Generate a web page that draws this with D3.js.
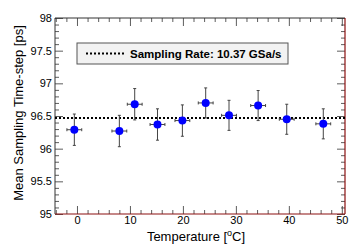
<!DOCTYPE html>
<meta charset="utf-8">
<script src="https://cdn.jsdelivr.net/npm/d3@7"></script>
<style>
    body { margin: 0; background: #fff; }
    .tick text { font-family: "Liberation Sans", Arial, sans-serif; font-size: 11px; fill: #000; }
    .label { font-family: "Liberation Sans", Arial, sans-serif; font-size: 13px; }
</style>
<body>
<script>
    var temps = [-0.5, 8.0, 10.9, 15.2, 19.9, 24.3, 28.7, 34.2, 39.6, 46.5];
    var stepPs = [96.29, 96.27, 96.68, 96.37, 96.43, 96.70, 96.51, 96.66, 96.45, 96.38];
    var stepErr = [0.24, 0.24, 0.24, 0.24, 0.24, 0.23, 0.23, 0.23, 0.23, 0.23];
    var tempErr = [1.4, 1.4, 1.4, 1.4, 1.4, 1.4, 1.4, 1.4, 1.4, 1.4];
    var meanStep = 96.47;
    var xTicks = [0, 10, 20, 30, 40, 50];
    var yTicks = [95, 95.5, 96, 96.5, 97, 97.5, 98];

    var data = temps.map(function (t, i) {
        return { t: t, v: stepPs[i], ev: stepErr[i], et: tempErr[i] };
    });

    var margin = { top: 18, right: 18, bottom: 32, left: 55 }
        , width = 363 - margin.left - margin.right
        , height = 246 - margin.top - margin.bottom;

    var svg = d3.select("body").append("svg")
        .attr("width", 363)
        .attr("height", 246)
        .append("g")
        .attr("transform", "translate(" + margin.left + "," + margin.top + ")");

    var xScale = d3.scaleLinear().domain([-4.15, 50.6]).range([0, width]);
    var yScale = d3.scaleLinear().domain([95, 98]).range([height, 0]);

    var minorX = d3.range(-4, 51, 2).filter(function (d) { return d % 10 !== 0; });
    var minorY = d3.range(950, 981, 1).map(function (d) { return d / 10; })
        .filter(function (d) { return Math.round(d * 10) % 5 !== 0; });

    // minor ticks, all four sides, pointing in
    function minor(axis, vals, size) {
        return axis.tickValues(vals).tickSize(size).tickFormat("");
    }
    svg.append("g").attr("transform", "translate(0," + height + ")")
        .call(minor(d3.axisTop(xScale), minorX, 4));
    svg.append("g").call(minor(d3.axisBottom(xScale), minorX, 4));
    svg.append("g").call(minor(d3.axisRight(yScale), minorY, 4));
    svg.append("g").attr("transform", "translate(" + width + ",0)")
        .call(minor(d3.axisLeft(yScale), minorY, 4));
    svg.append("g").call(d3.axisBottom(xScale).tickValues(xTicks).tickSize(8).tickFormat(""));
    svg.append("g").attr("transform", "translate(" + width + ",0)")
        .call(d3.axisLeft(yScale).tickValues(yTicks).tickSize(8).tickFormat(""));

    // labelled axes
    var xAxis = svg.append("g")
        .attr("transform", "translate(0," + height + ")")
        .call(d3.axisTop(xScale).tickValues(xTicks).tickSize(8).tickFormat(d3.format("d")));
    xAxis.selectAll(".tick text").attr("y", 2).attr("dy", "0.71em");

    var yAxis = svg.append("g")
        .call(d3.axisRight(yScale).tickValues(yTicks).tickSize(8).tickFormat(function (d) { return d; }));
    yAxis.selectAll(".tick text").attr("x", -3).style("text-anchor", "end");

    svg.selectAll(".domain").remove();
    svg.selectAll(".tick line").attr("stroke", "#333").attr("stroke-width", 0.8);

    // frame
    svg.append("line").attr("x1", 0).attr("x2", 0).attr("y1", 0).attr("y2", height)
        .attr("stroke", "#333").attr("stroke-width", 1);
    svg.append("line").attr("x1", 0).attr("x2", width).attr("y1", 0).attr("y2", 0)
        .attr("stroke", "#333").attr("stroke-width", 1);
    svg.append("line").attr("x1", 0).attr("x2", width).attr("y1", height).attr("y2", height)
        .attr("stroke", "#8b1010").attr("stroke-width", 1.2);
    svg.append("line").attr("x1", width).attr("x2", width).attr("y1", 0).attr("y2", height)
        .attr("stroke", "#8b1010").attr("stroke-width", 1.2);

    // mean line
    svg.append("line")
        .attr("x1", 0).attr("x2", width)
        .attr("y1", yScale(meanStep)).attr("y2", yScale(meanStep))
        .attr("stroke", "#000").attr("stroke-width", 2)
        .attr("stroke-dasharray", "2,2");

    // error bars
    var pts = svg.selectAll(".pt").data(data).enter().append("g").attr("class", "pt");
    pts.append("line")
        .attr("x1", function (d) { return xScale(d.t); })
        .attr("x2", function (d) { return xScale(d.t); })
        .attr("y1", function (d) { return yScale(d.v - d.ev); })
        .attr("y2", function (d) { return yScale(d.v + d.ev); })
        .attr("stroke", "#444").attr("stroke-width", 1);
    pts.append("line")
        .attr("x1", function (d) { return xScale(d.t - d.et); })
        .attr("x2", function (d) { return xScale(d.t + d.et); })
        .attr("y1", function (d) { return yScale(d.v); })
        .attr("y2", function (d) { return yScale(d.v); })
        .attr("stroke", "#444").attr("stroke-width", 1);
    [-1, 1].forEach(function (s) {
        pts.append("line")
            .attr("x1", function (d) { return xScale(d.t + s * d.et); })
            .attr("x2", function (d) { return xScale(d.t + s * d.et); })
            .attr("y1", function (d) { return yScale(d.v) - 1.5; })
            .attr("y2", function (d) { return yScale(d.v) + 1.5; })
            .attr("stroke", "#444").attr("stroke-width", 1);
        pts.append("line")
            .attr("x1", function (d) { return xScale(d.t) - 1.5; })
            .attr("x2", function (d) { return xScale(d.t) + 1.5; })
            .attr("y1", function (d) { return yScale(d.v + s * d.ev); })
            .attr("y2", function (d) { return yScale(d.v + s * d.ev); })
            .attr("stroke", "#444").attr("stroke-width", 1);
    });
    pts.append("circle")
        .attr("cx", function (d) { return xScale(d.t); })
        .attr("cy", function (d) { return yScale(d.v); })
        .attr("r", 4)
        .attr("fill", "#0000ff");

    // legend
    var leg = svg.append("g").attr("transform", "translate(22,25)");
    leg.append("rect").attr("width", 211).attr("height", 21)
        .attr("fill", "#f2f2f2").attr("stroke", "#555").attr("stroke-width", 1);
    leg.append("line").attr("x1", 9).attr("x2", 47).attr("y1", 10.5).attr("y2", 10.5)
        .attr("stroke", "#000").attr("stroke-width", 2).attr("stroke-dasharray", "2,2");
    leg.append("text").attr("x", 53).attr("y", 15)
        .style("font-family", "'Liberation Sans', Arial, sans-serif")
        .style("font-size", "11.5px").style("font-weight", "bold")
        .text("Sampling Rate: 10.37 GSa/s");

    // axis titles
    var xt = svg.append("text").attr("class", "label")
        .attr("x", 141).attr("y", height + 27)
        .style("text-anchor", "middle");
    xt.append("tspan").text("Temperature [");
    xt.append("tspan").attr("dy", -5).style("font-size", "9px").text("o");
    xt.append("tspan").attr("dy", 5).text("C]");

    svg.append("text").attr("class", "label")
        .attr("transform", "rotate(-90)")
        .attr("x", -95).attr("y", -32)
        .style("text-anchor", "middle")
        .text("Mean Sampling Time-step [ps]");
</script>
</body>
